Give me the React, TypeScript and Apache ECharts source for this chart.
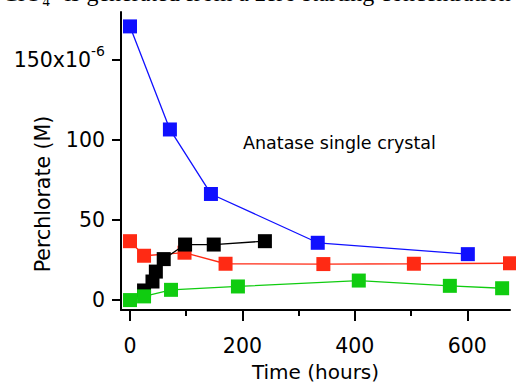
import React, { useEffect, useRef } from "react";
import * as echarts from "echarts";

const timeBlue = [0, 71, 144, 334, 601];
const perchlorateBlue = [171, 106.6, 66.3, 35.8, 28.7];

const timeRed = [0, 25, 97, 170, 344, 505, 676];
const perchlorateRed = [36.8, 27.7, 29.6, 22.7, 22.5, 22.7, 23];

const timeBlack = [25, 40, 46, 60, 98, 149, 240];
const perchlorateBlack = [6, 11.6, 17.8, 25.6, 34.7, 34.7, 36.8];

const timeGreen = [0, 25, 73, 192, 407, 569, 662];
const perchlorateGreen = [0, 2.3, 6.4, 8.5, 12.2, 8.9, 7.4];

const xMajorTicks = [0, 200, 400, 600];
const xMinorTicks = [0, 100, 200, 300, 400, 500, 600];
const yTicks = [0, 50, 100, 150];

const FONT = "DejaVu Sans";

function pairs(xs: number[], ys: number[]) {
  return xs.map((x, i) => [x, ys[i]]);
}

export default function App() {
  const ref = useRef<HTMLDivElement>(null);
  useEffect(() => {
    if (!ref.current) return;
    const chart = echarts.init(ref.current, undefined, { renderer: "svg" });
    const mk = (name: string, xs: number[], ys: number[], color: string, z: number) => ({
      name,
      type: "line",
      data: pairs(xs, ys),
      symbol: "rect",
      symbolSize: 14,
      clip: false,
      z,
      itemStyle: { color },
      lineStyle: { color, width: 1.3 },
    });
    chart.setOption({
      animation: false,
      backgroundColor: "#ffffff",
      grid: { left: 121, right: 6, top: 12, bottom: 75, containLabel: false },
      xAxis: [
        {
          type: "value",
          min: -16,
          max: 676,
          axisLine: { show: true, onZero: false, lineStyle: { color: "#000", width: 2 } },
          axisTick: { show: true, customValues: xMinorTicks, length: 6, lineStyle: { color: "#000", width: 2 } },
          axisLabel: {
            show: true,
            customValues: xMajorTicks,
            margin: 25,
            fontFamily: FONT,
            fontSize: 20.5,
            color: "#000",
          },
          splitLine: { show: false },
          name: "Time (hours)",
          nameLocation: "middle",
          nameGap: 52,
          nameTextStyle: { fontFamily: FONT, fontSize: 20, color: "#000" },
        },
        {
          type: "value",
          min: -16,
          max: 676,
          position: "bottom",
          axisLine: { show: false, onZero: false },
          axisTick: { show: true, customValues: xMajorTicks, length: 11, lineStyle: { color: "#000", width: 2 } },
          axisLabel: { show: false },
          splitLine: { show: false },
        },
      ],
      yAxis: {
        type: "value",
        min: -6.2,
        max: 180,
        axisLine: { show: true, onZero: false, lineStyle: { color: "#000", width: 2 } },
        axisTick: { show: true, customValues: yTicks, length: 9, lineStyle: { color: "#000", width: 2 } },
        axisLabel: {
          show: true,
          customValues: yTicks,
          margin: 16,
          formatter: (v: number) => (v === 150 ? "{a|150x10}{b|-6}" : "{a|" + v + "}"),
          rich: {
            a: { fontFamily: FONT, fontSize: 20.5, color: "#000" },
            b: { fontFamily: FONT, fontSize: 14, color: "#000", padding: [0, 0, 18, 0] },
          },
        },
        splitLine: { show: false },
      },
      graphic: [
        {
          type: "text",
          x: 43,
          y: 194,
          rotation: Math.PI / 2,
          style: {
            text: "Perchlorate (M)",
            fontFamily: FONT,
            fontSize: 20.5,
            fill: "#000",
            align: "center",
            verticalAlign: "middle",
          },
        },
        {
          type: "text",
          x: 243,
          y: 143,
          style: {
            text: "Anatase single crystal",
            fontFamily: FONT,
            fontSize: 17.5,
            fill: "#000",
            align: "left",
            verticalAlign: "middle",
          },
        },
        {
          type: "text",
          x: 2,
          y: 5,
          style: {
            text: "ClO₄⁻ is generated from a zero starting concentration",
            fontFamily: "Liberation Serif",
            fontSize: 24,
            fill: "#000",
            align: "left",
            verticalAlign: "bottom",
          },
        },
      ],
      series: [
        mk("blue", timeBlue, perchlorateBlue, "#1010ff", 2),
        mk("red", timeRed, perchlorateRed, "#ff2a14", 2),
        mk("black", timeBlack, perchlorateBlack, "#000000", 3),
        mk("green", timeGreen, perchlorateGreen, "#10cc10", 4),
      ],
    });
    return () => chart.dispose();
  }, []);
  return (
    <div
      ref={ref}
      style={{ position: "fixed", left: 0, top: 0, width: 516, height: 387, background: "#fff" }}
    />
  );
}
